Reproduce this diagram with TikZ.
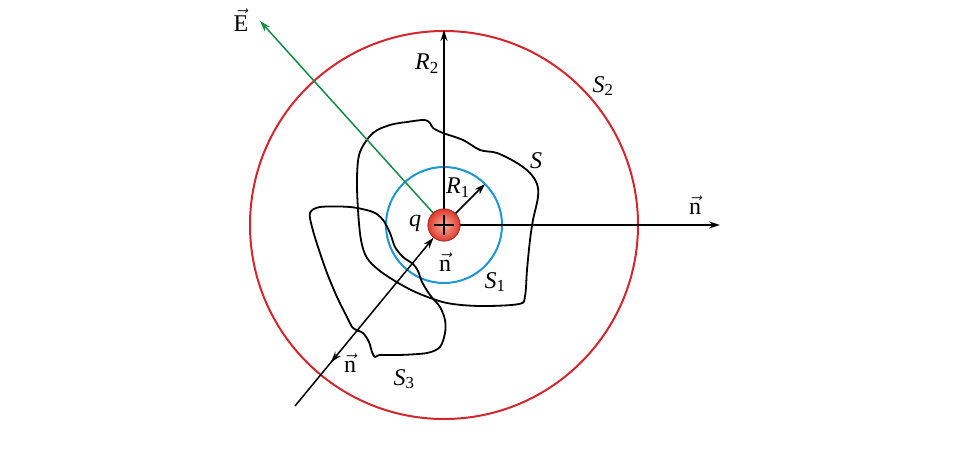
\documentclass[tikz,border=0pt]{standalone}
\usepackage{fontspec}
\setmainfont{Liberation Serif}
\usetikzlibrary{arrows.meta,decorations.markings,calc}
\definecolor{redc}{RGB}{212,38,44}
\definecolor{bluec}{RGB}{28,150,212}
\definecolor{greenc}{RGB}{18,140,68}
\definecolor{qin}{RGB}{250,175,155}
\definecolor{qout}{RGB}{222,60,46}
\definecolor{qedge}{RGB}{175,45,35}
\tikzset{
  surf/.style={line width=1.8pt, black, line join=round},
  sph/.style={line width=2pt},
  vecline/.style={line width=1.5pt, -{Stealth[length=11pt,width=7pt]}},
  lab/.style={font=\fontsize{24}{28}\selectfont, inner sep=0pt},
  charge/.style={circle, minimum size=32pt, inner sep=0pt, draw=qedge, line width=0.8pt,
    inner color=qin, outer color=qout},
}
\newcommand{\vecn}{$\vec{\mbox{n}}$}
\begin{document}
\begin{tikzpicture}[x=1pt,y=-1pt]
\useasboundingbox (0,0) rectangle (960,450);
\coordinate (O) at (444,225);
\draw[sph, redc] (O) circle[radius=194];
\draw[sph, bluec] (O) circle[radius=58];
% surface S
\draw[surf] plot[smooth cycle, tension=0.55] coordinates {
  (373,133) (390,125) (407,122) (424,120) (430,123) (433,128) (443,133)
  (463,140) (480,150) (497,153) (517,163) (530,173) (537,184) (538,197)
  (533,220) (530,240) (527,270) (525,296) (519,304) (480,306) (447,303)
  (420,294) (400,284) (380,271) (367,258) (361,240) (358,210) (357,177)
  (360,152)};
% surface S3
\draw[surf] plot[smooth cycle, tension=0.5] coordinates {
  (320,207) (350,207) (373,212) (383,220) (390,233) (395,247) (403,257)
  (413,264) (418,271) (422,282) (430,295) (440,307) (445,320) (445,333)
  (440,347) (427,353) (400,355) (380,355) (375,357) (372,352) (369,342)
  (363,333) (353,328) (347,317) (337,297) (327,273) (318,247) (312,227)
  (310,213)};
% charge
\node[charge] (q0) at (O) {};
\coordinate (R2tip) at (444,30);
\coordinate (ntip) at (720,225);
\coordinate (R1tip) at (485,184);
\coordinate (Etip) at (260,21);
\coordinate (nstart) at (295,406);
\draw[vecline] (q0) -- (R2tip);
\draw[vecline] (q0) -- (ntip);
\draw[vecline] (q0) -- (R1tip);
\draw[vecline, greenc] (q0) -- (Etip);
\draw[vecline, postaction={decorate, decoration={markings,
   mark=at position 0.31 with {\arrow{Stealth[length=11pt,width=7pt,reversed]}}}}]
   (nstart) -- (q0);
\node[charge] (q1) at (O) {};
\draw[line width=1.4pt] ($(q1.center)+(-10,0)$) -- ($(q1.center)+(10,0)$);
\draw[line width=1.4pt] ($(q1.center)+(0,-10)$) -- ($(q1.center)+(0,10)$);
% labels
\node[lab] (lE) at (241,20) {$\vec{\mbox{E}}$};
\node[lab] (lR2) at (427,64) {\textit{R}\textsubscript{2}};
\node[lab] (lS2) at (603,86) {\textit{S}\textsubscript{2}};
\node[lab] (lS) at (536,161) {\textit{S}};
\node[lab] (lR1) at (458,188) {\textit{R}\textsubscript{1}};
\node[lab] (lq) at (415,223) {\textit{q}};
\node[lab] (ln1) at (445,262) {\vecn};
\node[lab] (lS1) at (495,282) {\textit{S}\textsubscript{1}};
\node[lab] (ln2) at (695,205) {\vecn};
\node[lab] (ln3) at (350,363) {\vecn};
\node[lab] (lS3) at (404,379) {\textit{S}\textsubscript{3}};
\end{tikzpicture}
\end{document}
